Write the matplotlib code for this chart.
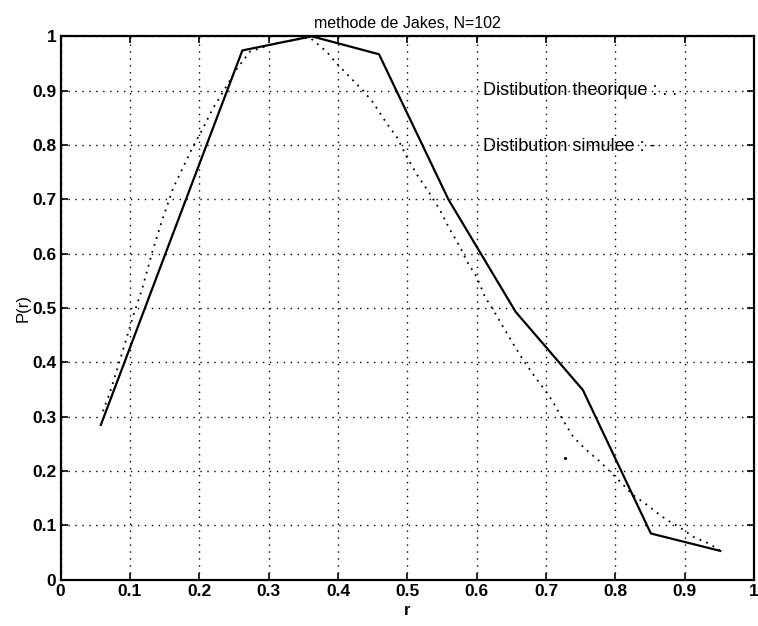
import numpy as np
import matplotlib
matplotlib.use('Agg')
import matplotlib.pyplot as plt

# simulated distribution (solid line)
r_sim = [0.058, 0.160, 0.262, 0.362, 0.459, 0.559, 0.656, 0.753, 0.851, 0.951]
p_sim = [0.285, 0.630, 0.974, 1.000, 0.967, 0.700, 0.493, 0.349, 0.085, 0.053]

# theoretical distribution (dotted line)
r_th = [0.061, 0.071, 0.090, 0.104, 0.117, 0.133, 0.146, 0.162, 0.190, 0.205,
        0.219, 0.240, 0.254, 0.273, 0.309, 0.359, 0.384, 0.398, 0.417, 0.436,
        0.450, 0.470, 0.485, 0.499, 0.514, 0.532, 0.547, 0.561, 0.576, 0.587,
        0.600, 0.612, 0.624, 0.638, 0.652, 0.667, 0.684, 0.701, 0.710, 0.724,
        0.739, 0.753, 0.763, 0.778, 0.792, 0.807, 0.825, 0.845, 0.860, 0.874,
        0.893, 0.912, 0.932, 0.950]
p_th = [0.310, 0.344, 0.423, 0.483, 0.533, 0.607, 0.660, 0.720, 0.795, 0.830,
        0.866, 0.910, 0.940, 0.972, 0.987, 0.998, 0.971, 0.950, 0.925, 0.900,
        0.879, 0.840, 0.814, 0.778, 0.745, 0.711, 0.680, 0.645, 0.612, 0.583,
        0.557, 0.520, 0.496, 0.465, 0.435, 0.404, 0.373, 0.344, 0.327, 0.294,
        0.263, 0.245, 0.233, 0.217, 0.199, 0.180, 0.156, 0.138, 0.123, 0.110,
        0.096, 0.079, 0.068, 0.055]

# stray speck on the scan
speck_r = [0.727]
speck_p = [0.224]

ticks = np.round(np.arange(0, 1.01, 0.1), 1)
tick_labels = ['0', '0.1', '0.2', '0.3', '0.4', '0.5', '0.6', '0.7', '0.8', '0.9', '1']

plt.rcParams['font.family'] = ['Liberation Sans', 'DejaVu Sans']

fig = plt.figure(figsize=(7.58, 6.26), dpi=100)
ax = fig.add_axes([0.080, 0.074, 0.915, 0.868])

ax.plot(r_th, p_th, color='black', linestyle=(0, (1, 3)), linewidth=1.3)
ax.plot(r_sim, p_sim, color='black', linestyle='-', linewidth=1.6)
ax.plot(speck_r, speck_p, 'k.', markersize=2.5)

ax.set_xlim(0, 1)
ax.set_ylim(0, 1)
ax.set_xticks(ticks)
ax.set_yticks(ticks)
ax.set_xticklabels(tick_labels, fontsize=12.5, fontweight='bold')
ax.set_yticklabels(tick_labels, fontsize=12.5, fontweight='bold')
ax.tick_params(direction='in', length=5, width=1.2, top=True, right=True, pad=3)
ax.grid(True, color='black', linestyle=(0, (1, 4)), linewidth=1.0)
for s in ax.spines.values():
    s.set_linewidth(1.6)

ax.set_title('methode de Jakes, N=102', fontsize=11.5, pad=6)
ax.set_xlabel('r', fontsize=12, fontweight='bold', labelpad=3)
ax.set_ylabel('P(r)', fontsize=12, labelpad=1)

ax.text(0.609, 0.9, 'Distibution theorique : . .', fontsize=13, va='center', ha='left')
ax.text(0.609, 0.797, 'Distibution simulee : -', fontsize=13, va='center', ha='left')

fig.savefig('out.png', dpi=100)
